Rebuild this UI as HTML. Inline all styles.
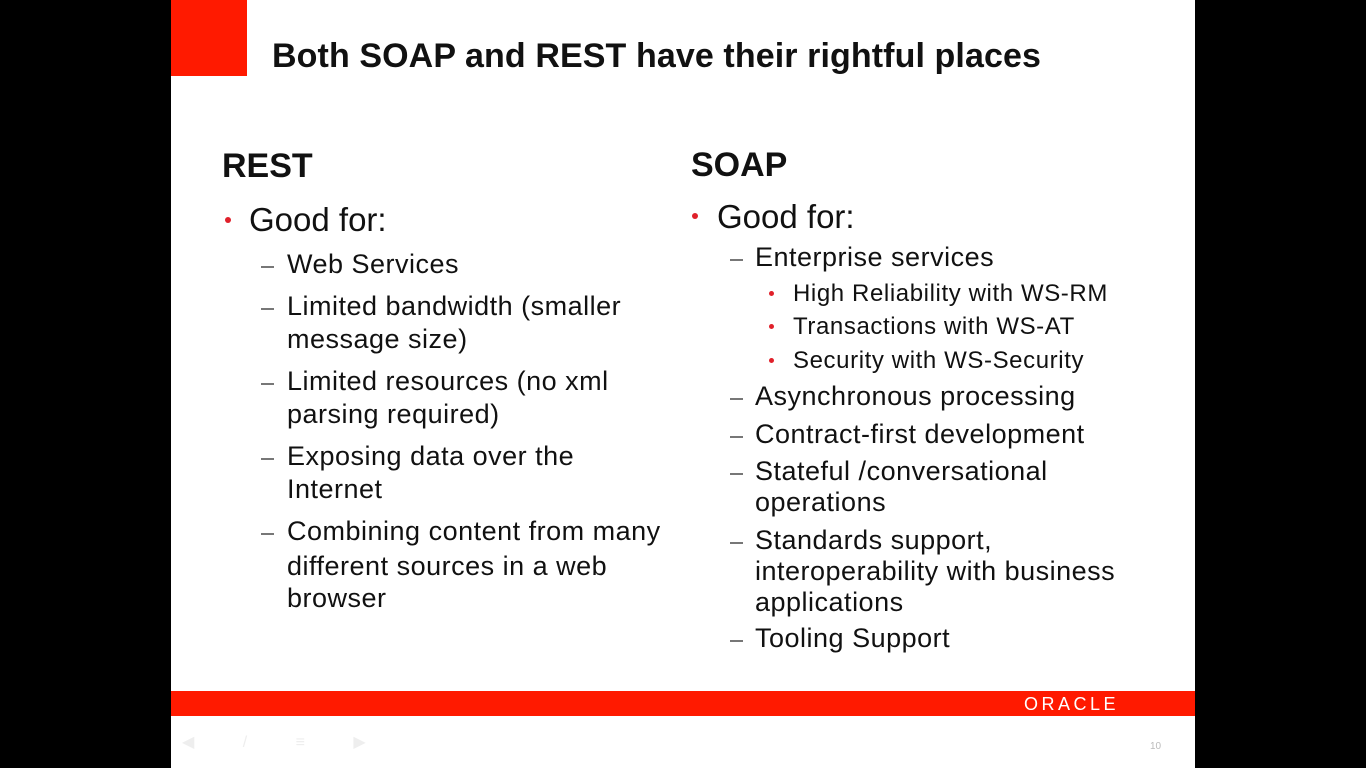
<!DOCTYPE html>
<html><head><meta charset="utf-8"><style>
body{margin:0;width:1366px;height:768px;background:#000;position:relative;overflow:hidden;font-family:"Liberation Sans",sans-serif;}
#s{position:absolute;left:171px;top:0;width:1024px;height:768px;background:#fff;}
.t{position:absolute;white-space:nowrap;line-height:1;color:#111;}
.r{font-size:27px;letter-spacing:0.5px}
.q{font-size:24px;letter-spacing:0.6px}
.d{position:absolute;width:6px;height:6px;border-radius:50%;background:#e0202a;}
.m{position:absolute;height:2px;width:13px;background:#777;}
</style></head><body>
<div id="s"></div>
<div style="position:absolute;left:171px;top:0;width:76px;height:76px;background:#ff1a00"></div>
<div class="t" style="left:272px;top:39px;font-size:34px;font-weight:bold;letter-spacing:0.1px">Both SOAP and REST have their rightful places</div>

<div class="t" style="left:222px;top:149px;font-size:34px;font-weight:bold">REST</div>
<div class="d" style="left:225px;top:217px"></div>
<div class="t" style="left:249px;top:203px;font-size:33px">Good for:</div>

<div class="m" style="left:261px;top:266px"></div>
<div class="t r" style="left:287px;top:251px">Web Services</div>
<div class="m" style="left:261px;top:308px"></div>
<div class="t r" style="left:287px;top:293px">Limited bandwidth (smaller</div>
<div class="t r" style="left:287px;top:326px">message size)</div>
<div class="m" style="left:261px;top:383px"></div>
<div class="t r" style="left:287px;top:368px">Limited resources (no xml</div>
<div class="t r" style="left:287px;top:401px">parsing required)</div>
<div class="m" style="left:261px;top:458px"></div>
<div class="t r" style="left:287px;top:443px">Exposing data over the</div>
<div class="t r" style="left:287px;top:476px">Internet</div>
<div class="m" style="left:261px;top:533px"></div>
<div class="t r" style="left:287px;top:518px">Combining content from many</div>
<div class="t r" style="left:287px;top:553px">different sources in a web</div>
<div class="t r" style="left:287px;top:585px">browser</div>

<div class="t" style="left:691px;top:148px;font-size:34px;font-weight:bold">SOAP</div>
<div class="d" style="left:692px;top:213px"></div>
<div class="t" style="left:717px;top:200px;font-size:33px">Good for:</div>
<div class="m" style="left:730px;top:259px"></div>
<div class="t r" style="left:755px;top:244px">Enterprise services</div>
<div class="d" style="left:769px;top:291px;width:5px;height:5px"></div>
<div class="t q" style="left:793px;top:282px">High Reliability with WS-RM</div>
<div class="d" style="left:769px;top:324px;width:5px;height:5px"></div>
<div class="t q" style="left:793px;top:315px">Transactions with WS-AT</div>
<div class="d" style="left:769px;top:358px;width:5px;height:5px"></div>
<div class="t q" style="left:793px;top:349px">Security with WS-Security</div>
<div class="m" style="left:730px;top:398px"></div>
<div class="t r" style="left:755px;top:383px">Asynchronous processing</div>
<div class="m" style="left:730px;top:436px"></div>
<div class="t r" style="left:755px;top:421px">Contract-first development</div>
<div class="m" style="left:730px;top:473px"></div>
<div class="t r" style="left:755px;top:458px">Stateful /conversational</div>
<div class="t r" style="left:755px;top:489px">operations</div>
<div class="m" style="left:730px;top:542px"></div>
<div class="t r" style="left:755px;top:527px">Standards support,</div>
<div class="t r" style="left:755px;top:558px">interoperability with business</div>
<div class="t r" style="left:755px;top:589px">applications</div>
<div class="m" style="left:730px;top:640px"></div>
<div class="t r" style="left:755px;top:625px">Tooling Support</div>

<div style="position:absolute;left:171px;top:691px;width:1024px;height:25px;background:#ff1a00"></div>
<div class="t" style="left:1024px;top:695px;font-size:18px;color:#fff;letter-spacing:3.5px">ORACLE</div>
<div class="t" style="left:1150px;top:742px;font-size:10px;color:#bbb">10</div>
<div class="t" style="left:182px;top:735px;font-size:16px;color:#eee;letter-spacing:22px">◀ / ≡ ▶</div>
</body></html>
